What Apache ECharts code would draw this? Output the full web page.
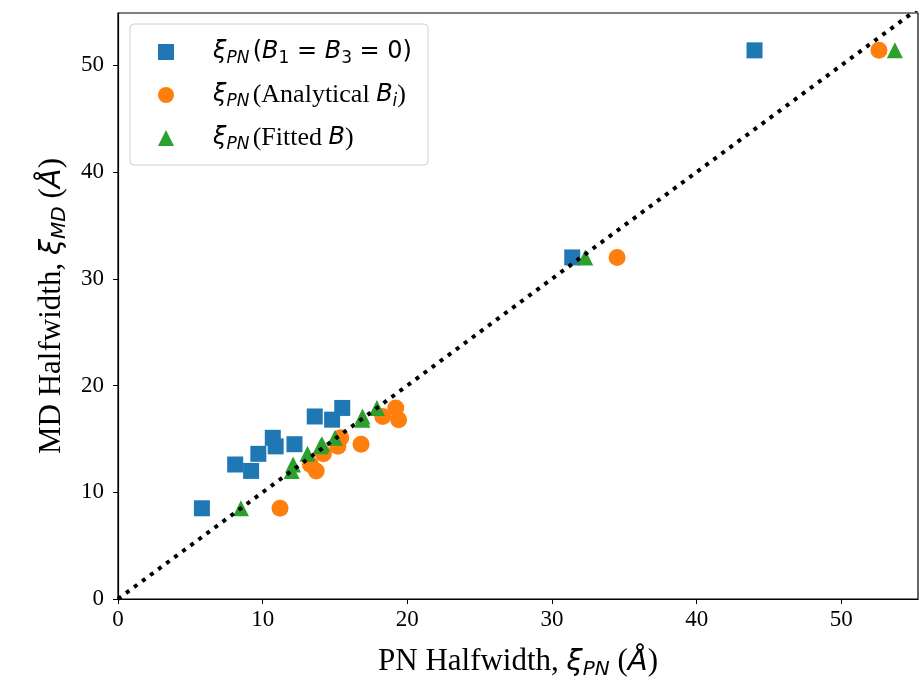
<!DOCTYPE html>
<html>
<head>
    <meta charset="utf-8">
    <script src="https://cdn.jsdelivr.net/npm/echarts@6/dist/echarts.min.js"></script>
    <style>
        html, body { margin: 0; padding: 0; background: #fff; }
        #chart { width: 920px; height: 689px; }
    </style>
</head>
<body>
<div id="chart"></div>
<script>
    // MD halfwidth (shared y) and the three PN estimates (x)
    var mdHalf      = [8.5, 12.0, 12.6, 13.6, 14.3, 14.5, 15.1, 16.8, 17.1, 17.9, 32.0, 51.4];
    var pnZeroB     = [5.8, 9.2, 8.1, 9.7, 10.9, 12.2, 10.7, 14.8, 13.6, 15.5, 31.4, 44.0];
    var pnAnalytic  = [11.2, 13.7, 13.3, 14.2, 15.2, 16.8, 15.4, 19.4, 18.3, 19.2, 34.5, 52.6];
    var pnFitted    = [8.5, 12.0, 12.1, 13.1, 14.0, 14.1, 15.0, 16.9, 16.9, 17.9, 32.3, 53.7];
    var xTicks = [0, 10, 20, 30, 40, 50];
    var yTicks = [0, 10, 20, 30, 40, 50];

    function pairs(xs) {
        return xs.map(function (x, i) { return [x, mdHalf[i]]; });
    }

    var serif = 'Liberation Serif';
    var mathFont = 'DejaVu Sans';
    var rich = {
        rm: { fontFamily: serif, fontSize: 26, color: '#000', lineHeight: 30 },
        mi: { fontFamily: mathFont, fontStyle: 'italic', fontSize: 24, color: '#000', lineHeight: 30 },
        mr: { fontFamily: mathFont, fontSize: 24, color: '#000', lineHeight: 30 },
        sub: { fontFamily: mathFont, fontStyle: 'italic', fontSize: 17, color: '#000', lineHeight: 20, verticalAlign: 'bottom' },
        subr: { fontFamily: mathFont, fontSize: 17, color: '#000', lineHeight: 20, verticalAlign: 'bottom' }
    };
    var legendText = {
        zero: '{mi|ξ}{sub|PN} {mr|(}{mi|B}{subr|1}{mr| = }{mi|B}{subr|3}{mr| = 0)}',
        analytic: '{mi|ξ}{sub|PN} {rm|(Analytical }{mi|B}{sub|i}{rm|)}',
        fitted: '{mi|ξ}{sub|PN} {rm|(Fitted }{mi|B}{rm|)}'
    };
    var axisRich = {
        rm: { fontFamily: serif, fontSize: 31, color: '#000', lineHeight: 36 },
        mi: { fontFamily: mathFont, fontStyle: 'italic', fontSize: 29, color: '#000', lineHeight: 36 },
        sub: { fontFamily: mathFont, fontStyle: 'italic', fontSize: 20, color: '#000', lineHeight: 24, verticalAlign: 'bottom' }
    };

    var chart = echarts.init(document.getElementById('chart'));
    chart.setOption({
        animation: false,
        backgroundColor: '#fff',
        grid: {
            left: 118, right: 2, top: 13, bottom: 90,
            show: true, borderColor: '#000', borderWidth: 1.2
        },
        legend: {
            orient: 'vertical',
            left: 130, top: 24,
            padding: [16, 16, 12, 28],
            itemGap: 15,
            itemWidth: 16, itemHeight: 16,
            borderColor: '#d0d0d0', borderWidth: 1, borderRadius: 4,
            backgroundColor: 'rgba(255,255,255,0.8)',
            data: [
                { name: 'zero', icon: 'rect' },
                { name: 'analytic', icon: 'circle' },
                { name: 'fitted', icon: 'triangle' }
            ],
            formatter: function (n) { return legendText[n]; },
            textStyle: { rich: rich, padding: [0, 0, 0, 34] }
        },
        xAxis: {
            type: 'value', min: 0, max: 55.3,
            name: '{rm|PN Halfwidth, }{mi|ξ}{sub|PN}{rm| (}{mi|Å}{rm|)}',
            nameLocation: 'middle', nameGap: 45,
            nameTextStyle: { rich: axisRich },
            axisLine: { lineStyle: { color: '#000', width: 1.2 } },
            axisTick: { inside: false, length: 5, customValues: xTicks, lineStyle: { color: '#000' } },
            axisLabel: { customValues: xTicks, fontFamily: serif, fontSize: 23, color: '#000', margin: 9 },
            splitLine: { show: false }
        },
        yAxis: {
            type: 'value', min: 0, max: 54.9,
            name: '{rm|MD Halfwidth, }{mi|ξ}{sub|MD}{rm| (}{mi|Å}{rm|)}',
            nameLocation: 'middle', nameGap: 48, nameRotate: 90,
            nameTextStyle: { rich: axisRich },
            axisLine: { lineStyle: { color: '#000', width: 1.2 } },
            axisTick: { inside: false, length: 5, customValues: yTicks, lineStyle: { color: '#000' } },
            axisLabel: { customValues: yTicks, fontFamily: serif, fontSize: 23, color: '#000', margin: 14 },
            splitLine: { show: false }
        },
        series: [
            {
                name: 'zero', type: 'scatter', symbol: 'rect', symbolSize: 16,
                itemStyle: { color: '#1f77b4', opacity: 1 },
                data: pairs(pnZeroB)
            },
            {
                name: 'analytic', type: 'scatter', symbol: 'circle', symbolSize: 17,
                itemStyle: { color: '#ff7f0e', opacity: 1 },
                data: pairs(pnAnalytic)
            },
            {
                name: 'fitted', type: 'scatter', symbol: 'triangle', symbolSize: 16,
                itemStyle: { color: '#2ca02c', opacity: 1 },
                data: pairs(pnFitted)
            },
            {
                name: 'guide', type: 'line', symbol: 'none', silent: true,
                lineStyle: { color: '#000', width: 4, type: [4, 6], cap: 'butt' },
                data: [[0, 0], [56, 56]]
            }
        ]
    });
</script>
</body>
</html>
